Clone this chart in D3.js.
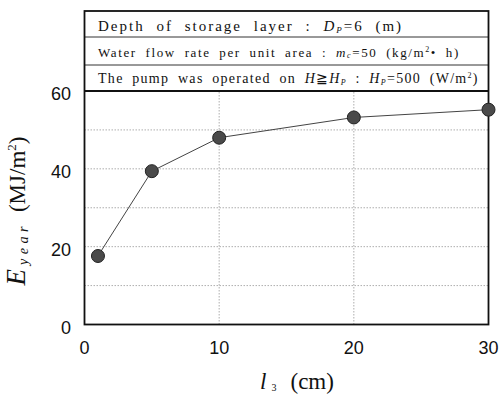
<!DOCTYPE html>
<html lang="en">
<head>
    <meta charset="UTF-8">
    <title>E_year vs l3</title>
    <script src="https://d3js.org/d3.v7.min.js"></script>
    <style>
        body {
            margin: 0;
            background: #fff;
        }

        svg {
            display: block;
        }

        .serif {
            font-family: "Liberation Serif", "DejaVu Serif", serif;
        }

        .tick-label {
            font-family: "Liberation Sans", Arial, sans-serif;
            font-size: 18px;
            fill: #111;
        }
    </style>
</head>
<body>
    <div id="chart"></div>
    <script>
        // data
        const lengths = [1, 5, 10, 20, 30];            // l3 (cm)
        const energy = [17.6, 39.4, 48.0, 53.2, 55.2];  // E_year (MJ/m2)
        const xTicks = [0, 10, 20, 30];
        const yTicks = [0, 20, 40, 60];
        const xGrid = [10, 20];
        const yGrid = [10, 20, 30, 40, 50];

        const width = 502;
        const height = 395;

        const svg = d3.select('#chart')
            .append('svg')
            .attr('width', width)
            .attr('height', height);

        const x = d3.scaleLinear()
            .domain([0, 30])
            .range([84.5, 488.5]);

        const y = d3.scaleLinear()
            .domain([0, 60])
            .range([324.5, 91]);

        // gridlines
        svg.append('g')
            .selectAll('line')
            .data(yGrid)
            .enter().append('line')
            .attr('x1', x(0))
            .attr('x2', x(30))
            .attr('y1', d => y(d))
            .attr('y2', d => y(d))
            .attr('stroke', '#999')
            .attr('stroke-width', 0.8)
            .attr('stroke-dasharray', '1.5,1.5');

        svg.append('g')
            .selectAll('line')
            .data(xGrid)
            .enter().append('line')
            .attr('x1', d => x(d))
            .attr('x2', d => x(d))
            .attr('y1', y(0))
            .attr('y2', 11)
            .attr('stroke', '#999')
            .attr('stroke-width', 0.8)
            .attr('stroke-dasharray', '1.5,1.5');

        // header box (three rows of conditions)
        const boxTop = 11;
        const rowLines = [37, 65];

        svg.append('rect')
            .attr('x', x(0))
            .attr('y', boxTop)
            .attr('width', x(30) - x(0))
            .attr('height', y(60) - boxTop)
            .attr('fill', '#fff')
            .attr('stroke', 'none');

        svg.append('g')
            .selectAll('line')
            .data(rowLines)
            .enter().append('line')
            .attr('x1', x(0))
            .attr('x2', x(30))
            .attr('y1', d => d)
            .attr('y2', d => d)
            .attr('stroke', '#333')
            .attr('stroke-width', 1);

        svg.append('rect')
            .attr('x', x(0))
            .attr('y', boxTop)
            .attr('width', x(30) - x(0))
            .attr('height', y(0) - boxTop)
            .attr('fill', 'none')
            .attr('stroke', '#111')
            .attr('stroke-width', 1.8);

        svg.append('line')
            .attr('x1', x(0))
            .attr('x2', x(30))
            .attr('y1', y(60))
            .attr('y2', y(60))
            .attr('stroke', '#111')
            .attr('stroke-width', 1.8);

        const headerX = 98;

        const row1 = svg.append('text')
            .attr('class', 'serif')
            .attr('x', headerX)
            .attr('y', 31)
            .attr('font-size', 15)
            .attr('letter-spacing', 2)
            .attr('word-spacing', 6)
            .attr('fill', '#111');
        row1.append('tspan').text('Depth of storage layer : ');
        row1.append('tspan').attr('font-style', 'italic').text('D');
        row1.append('tspan').attr('font-style', 'italic').attr('font-size', 9).attr('dy', 2).text('P');
        row1.append('tspan').attr('dy', -2).text('=6 (m)');

        const row2 = svg.append('text')
            .attr('class', 'serif')
            .attr('x', headerX)
            .attr('y', 57)
            .attr('font-size', 13)
            .attr('letter-spacing', 1.6)
            .attr('word-spacing', 4)
            .attr('fill', '#111');
        row2.append('tspan').text('Water flow rate per unit area : ');
        row2.append('tspan').attr('font-style', 'italic').text('m');
        row2.append('tspan').attr('font-style', 'italic').attr('font-size', 8).attr('dy', 1).text('c');
        row2.append('tspan').attr('dy', -1).text('=50 (kg/m');
        row2.append('tspan').attr('font-size', 8).attr('dy', -5).text('2');
        row2.append('tspan').attr('dy', 5).text('\u2022 h)');

        const row3 = svg.append('text')
            .attr('class', 'serif')
            .attr('x', headerX)
            .attr('y', 83)
            .attr('font-size', 14)
            .attr('letter-spacing', 1.3)
            .attr('word-spacing', 3.8)
            .attr('fill', '#111');
        row3.append('tspan').text('The pump was operated on ');
        row3.append('tspan').attr('font-style', 'italic').text('H');
        row3.append('tspan').text('\u2267');
        row3.append('tspan').attr('font-style', 'italic').text('H');
        row3.append('tspan').attr('font-style', 'italic').attr('font-size', 8).attr('dy', 2).text('P');
        row3.append('tspan').attr('dy', -2).text(' : ');
        row3.append('tspan').attr('font-style', 'italic').text('H');
        row3.append('tspan').attr('font-style', 'italic').attr('font-size', 8).attr('dy', 2).text('P');
        row3.append('tspan').attr('dy', -2).text('=500 (W/m');
        row3.append('tspan').attr('font-size', 8).attr('dy', -5).text('2');
        row3.append('tspan').attr('dy', 5).text(')');

        // tick labels
        svg.append('g')
            .selectAll('text')
            .data(xTicks)
            .enter().append('text')
            .attr('class', 'tick-label')
            .attr('x', d => x(d))
            .attr('y', 354)
            .attr('text-anchor', 'middle')
            .text(d => d);

        svg.append('g')
            .selectAll('text')
            .data(yTicks)
            .enter().append('text')
            .attr('class', 'tick-label')
            .attr('x', 71)
            .attr('y', d => y(d) + 9)
            .attr('text-anchor', 'end')
            .text(d => d);

        // data line and markers
        const points = lengths.map((l, i) => [l, energy[i]]);

        const line = d3.line()
            .x(d => x(d[0]))
            .y(d => y(d[1]));

        svg.append('path')
            .datum(points)
            .attr('fill', 'none')
            .attr('stroke', '#444')
            .attr('stroke-width', 1)
            .attr('d', line);

        svg.append('g')
            .selectAll('circle')
            .data(points)
            .enter().append('circle')
            .attr('cx', d => x(d[0]))
            .attr('cy', d => y(d[1]))
            .attr('r', 6.5)
            .attr('fill', '#4a4a4a')
            .attr('stroke', '#222')
            .attr('stroke-width', 1);

        // axis titles
        const xTitle = svg.append('text')
            .attr('class', 'serif')
            .attr('x', 297)
            .attr('y', 389)
            .attr('text-anchor', 'middle')
            .attr('font-size', 23)
            .attr('fill', '#111');
        xTitle.append('tspan').attr('font-style', 'italic').text('l');
        xTitle.append('tspan').attr('font-size', 10).attr('dx', 5).attr('dy', 2).text('3');
        xTitle.append('tspan').attr('dx', 14).attr('dy', -2).text('(cm)');

        const yTitle = svg.append('text')
            .attr('class', 'serif')
            .attr('transform', 'translate(25,211) rotate(-90)')
            .attr('text-anchor', 'middle')
            .attr('font-size', 23)
            .attr('fill', '#111');
        yTitle.append('tspan').attr('font-style', 'italic').attr('font-size', 27).text('E');
        yTitle.append('tspan').attr('font-style', 'italic').attr('font-size', 14)
            .attr('letter-spacing', 4.5).attr('dx', 4).attr('dy', 3).text('year');
        yTitle.append('tspan').attr('dx', 10).attr('dy', -3).text('(MJ/m');
        yTitle.append('tspan').attr('font-size', 13).attr('dy', -9).text('2');
        yTitle.append('tspan').attr('dy', 9).text(')');
    </script>
</body>
</html>
